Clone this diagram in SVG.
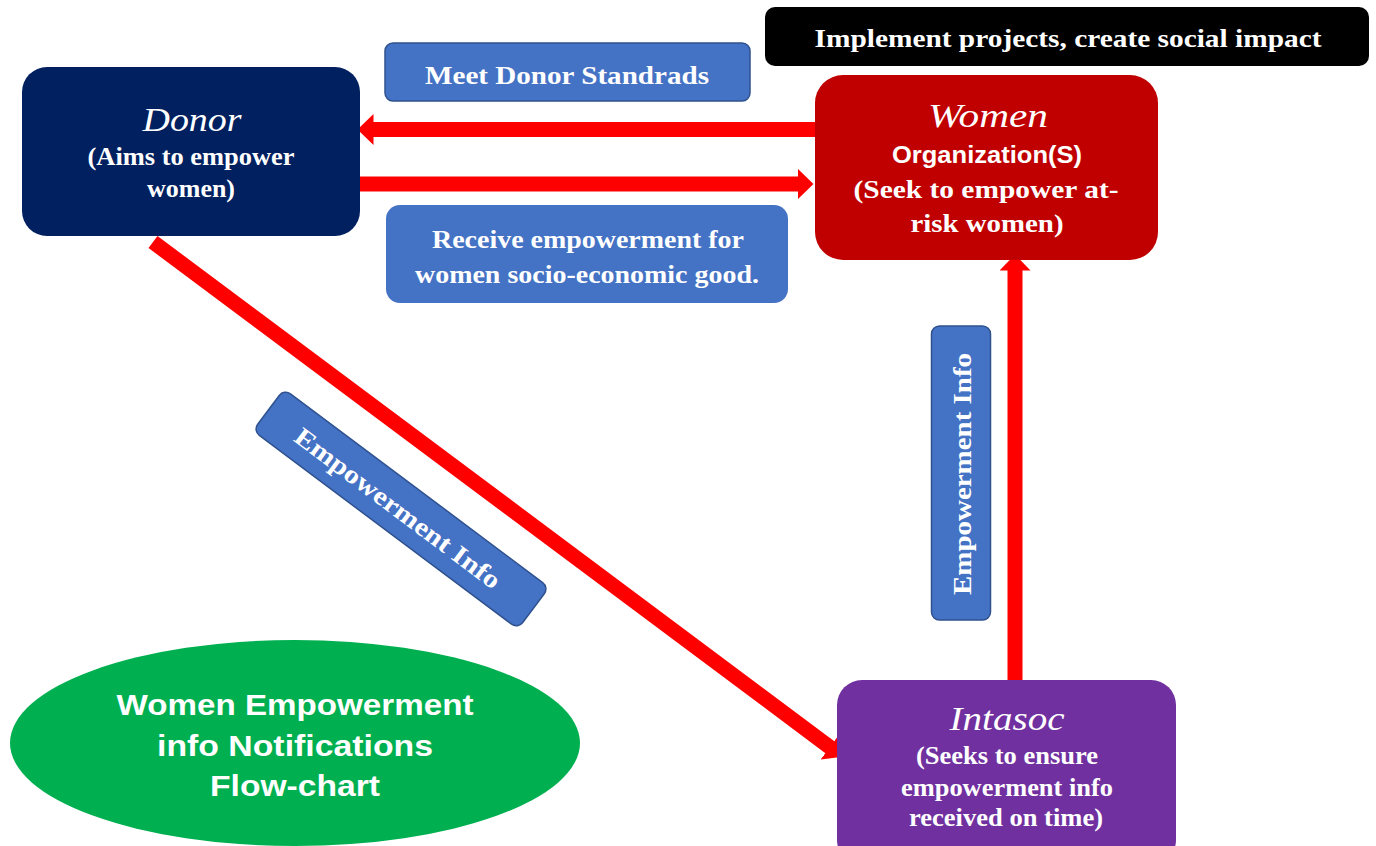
<svg xmlns="http://www.w3.org/2000/svg" width="1376" height="846" viewBox="0 0 1376 846">
<style>
.ttl{font-family:"Liberation Serif",serif;font-style:italic;fill:#fff;font-size:34px;text-anchor:middle}
.tb{font-family:"Liberation Serif",serif;font-weight:bold;fill:#fff;font-size:26px;text-anchor:middle}
.lbl{fill:#4472C4;stroke:#2F528F;stroke-width:1.5}
.conn{stroke:#FF0000;stroke-width:15;fill:none}
.sans{font-family:"Liberation Sans",Arial,sans-serif;font-weight:bold;fill:#fff;text-anchor:middle}
</style>
<defs>
<marker id="ah" viewBox="0 0 16 31" refX="0.5" refY="15.5" markerUnits="userSpaceOnUse" markerWidth="16" markerHeight="31" orient="auto">
<path d="M0,0 L16,15.5 L0,31 Z" fill="#FF0000"/>
</marker>
</defs>
<rect width="1376" height="846" fill="#fff"/>

<g id="connectors">
<line class="conn" x1="815" y1="129.5" x2="373" y2="129.5" marker-end="url(#ah)"/>
<line class="conn" x1="360" y1="184" x2="798" y2="184" marker-end="url(#ah)"/>
<line class="conn" x1="1015" y1="681" x2="1015" y2="270" marker-end="url(#ah)"/>
<line class="conn" x1="153" y1="242" x2="830.2" y2="747.4" marker-end="url(#ah)"/>
</g>

<g id="donor">
<rect x="22" y="67" width="338" height="169" rx="25" fill="#002060"/>
<text class="ttl" x="192" y="131" textLength="99" lengthAdjust="spacingAndGlyphs">Donor</text>
<text class="tb" x="191" y="165" textLength="207" lengthAdjust="spacingAndGlyphs">(Aims to empower</text>
<text class="tb" x="191" y="197" textLength="88" lengthAdjust="spacingAndGlyphs">women)</text>
</g>

<g id="women-org">
<rect x="815" y="75" width="343" height="185" rx="28" fill="#C00000"/>
<text class="ttl" x="988" y="127" textLength="120" lengthAdjust="spacingAndGlyphs">Women</text>
<text class="sans" x="987" y="163" font-size="23" textLength="190" lengthAdjust="spacingAndGlyphs">Organization(S)</text>
<text class="tb" x="986" y="198" font-size="29" textLength="265" lengthAdjust="spacingAndGlyphs">(Seek to empower at-</text>
<text class="tb" x="987" y="232" font-size="29" textLength="153" lengthAdjust="spacingAndGlyphs">risk women)</text>
</g>

<g id="intasoc">
<rect x="837" y="680" width="339" height="185" rx="25" fill="#7030A0"/>
<text class="ttl" x="1007" y="730" textLength="115" lengthAdjust="spacingAndGlyphs">Intasoc</text>
<text class="tb" x="1007" y="764" textLength="182" lengthAdjust="spacingAndGlyphs">(Seeks to ensure</text>
<text class="tb" x="1007" y="796" textLength="212" lengthAdjust="spacingAndGlyphs">empowerment info</text>
<text class="tb" x="1006" y="826" textLength="194" lengthAdjust="spacingAndGlyphs">received on time)</text>
</g>

<g id="impact-label">
<rect x="765" y="7" width="604" height="59" rx="10" fill="#000"/>
<text class="tb" x="1068" y="47" font-size="30" textLength="507" lengthAdjust="spacingAndGlyphs">Implement projects, create social impact</text>
</g>

<g id="meet-label">
<rect class="lbl" x="385" y="43" width="365" height="58" rx="8"/>
<text class="tb" x="567" y="84" font-size="30" textLength="284" lengthAdjust="spacingAndGlyphs">Meet Donor Standrads</text>
</g>

<g id="receive-label">
<rect x="386" y="205" width="402" height="98" rx="14" fill="#4472C4"/>
<text class="tb" x="588" y="248" font-size="29" textLength="312" lengthAdjust="spacingAndGlyphs">Receive empowerment for</text>
<text class="tb" x="587" y="283" font-size="29" textLength="344" lengthAdjust="spacingAndGlyphs">women socio-economic good.</text>
</g>

<g id="diag-label" transform="translate(401,509) rotate(36.8)">
<rect class="lbl" x="-165.5" y="-26" width="331" height="52" rx="8"/>
<text class="tb" x="-3" y="10" font-size="29" textLength="250" lengthAdjust="spacingAndGlyphs">Empowerment Info</text>
</g>

<g id="vert-label" transform="translate(961,473) rotate(-90)">
<rect class="lbl" x="-147" y="-29.5" width="294" height="59" rx="8"/>
<text class="tb" x="-1" y="10" font-size="29" textLength="242" lengthAdjust="spacingAndGlyphs">Empowerment Info</text>
</g>

<g id="title">
<ellipse cx="295" cy="743" rx="285" ry="103" fill="#00B050"/>
<text class="sans" x="295" y="715" font-size="29" textLength="357" lengthAdjust="spacingAndGlyphs">Women Empowerment</text>
<text class="sans" x="295" y="756" font-size="29" textLength="276" lengthAdjust="spacingAndGlyphs">info Notifications</text>
<text class="sans" x="295" y="796" font-size="29" textLength="170" lengthAdjust="spacingAndGlyphs">Flow-chart</text>
</g>
</svg>
